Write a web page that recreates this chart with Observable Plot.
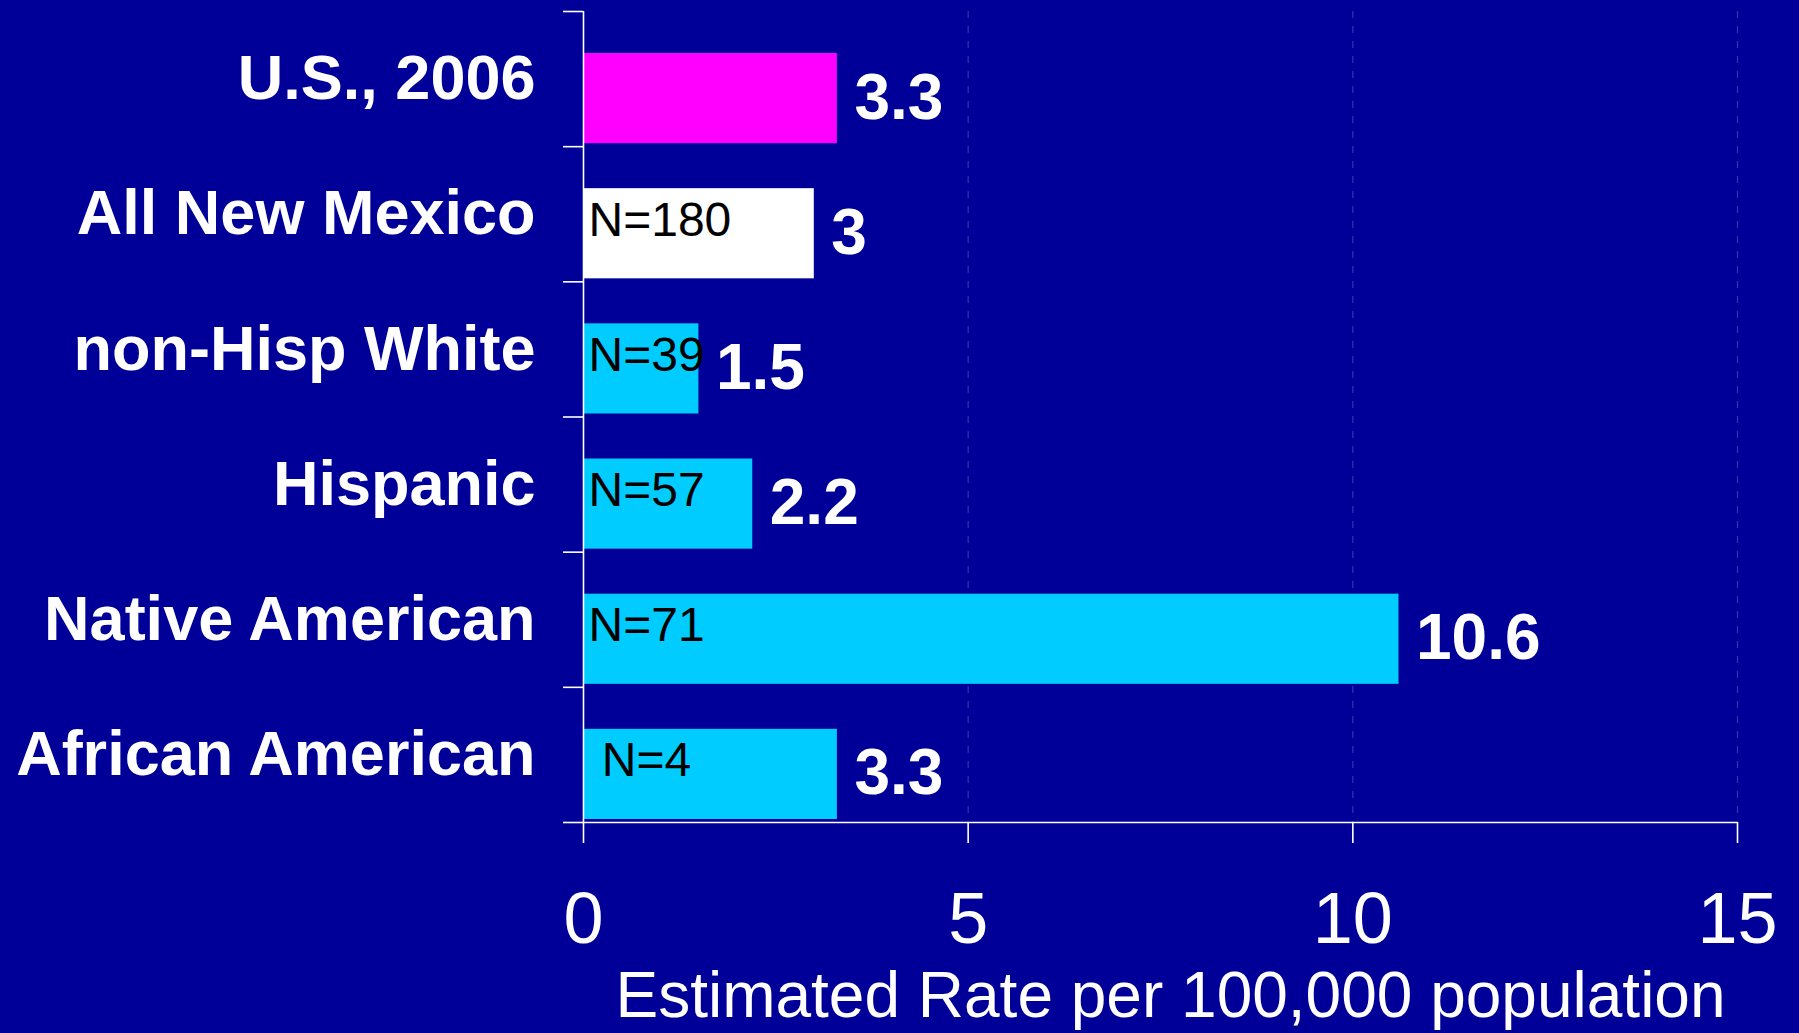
<!DOCTYPE html>
<html>
<head>
<meta charset="utf-8">
<script src="https://cdn.jsdelivr.net/npm/d3@7"></script>
<script src="https://cdn.jsdelivr.net/npm/@observablehq/plot@0.6"></script>
<style>
  html, body { margin: 0; padding: 0; background: #000099; }
  #chart svg { display: block; }
</style>
</head>
<body>
<div id="chart"></div>
<script>
const categories = ["U.S., 2006", "All New Mexico", "non-Hisp White", "Hispanic", "Native American", "African American"];
const rates = [3.3, 3, 1.5, 2.2, 10.6, 3.3];
const nLabels = ["", "N=180", "N=39", "N=57", "N=71", "\u00a0N=4"];
const barColors = ["#ff00ff", "#ffffff", "#00ccff", "#00ccff", "#00ccff", "#00ccff"];
const xTicks = [0, 5, 10, 15];
const xTitle = "Estimated Rate per 100,000 population";

const data = categories.map((c, i) => ({cat: c, i, v: rates[i], n: nLabels[i], color: barColors[i]}));
const font = "'Liberation Sans', Arial, Helvetica, sans-serif";

const chart = Plot.plot({
  width: 1799,
  height: 1033,
  marginLeft: 583,
  marginRight: 62,
  marginTop: 11,
  marginBottom: 211,
  style: {background: "#000099", color: "white", fontFamily: font},
  x: {domain: [0, 15]},
  y: {domain: [0, categories.length], reverse: true},
  marks: [
    Plot.gridX(xTicks.filter(t => t > 0), {stroke: "#3535ae", strokeOpacity: 1, strokeDasharray: "7,8", strokeWidth: 1.2}),
    Plot.rectX(data, {x1: 0, x2: "v", y1: "i", y2: d => d.i + 1, insetTop: 42, insetBottom: 3, fill: "color"}),
    Plot.ruleX([0], {y1: 0, y2: categories.length, stroke: "white", strokeWidth: 1.6}),
    Plot.ruleY([categories.length], {x1: 0, x2: 15, stroke: "white", strokeWidth: 1.6}),
    Plot.axisY({ticks: d3.range(0, categories.length + 1), tickSize: 20, tickFormat: () => "", stroke: "white", strokeWidth: 1.6, label: null}),
    Plot.axisX({ticks: xTicks, tickSize: 21, tickPadding: 48, fontSize: 72, stroke: "white", strokeWidth: 1.6, fill: "white", label: null, tickFormat: d => String(d)}),
    Plot.text(data, {x: 0, y: d => d.i + 0.5, text: "cat", textAnchor: "end", dx: -48, fontSize: 63, fontWeight: "bold", fill: "white"}),
    Plot.text(data, {x: "v", y: d => d.i + 0.5, text: d => String(d.v), textAnchor: "start", dx: 17, dy: 19, fontSize: 64, fontWeight: "bold", fill: "white"}),
    Plot.text(data, {x: 0, y: d => d.i + 0.5, text: "n", textAnchor: "start", dx: 5, dy: 6, fontSize: 48, fill: "black"}),
    Plot.text([xTitle], {frameAnchor: "bottom", text: d => d, dx: 10, dy: 194, fontSize: 64, fill: "white"})
  ]
});
document.getElementById("chart").appendChild(chart);
</script>
</body>
</html>
